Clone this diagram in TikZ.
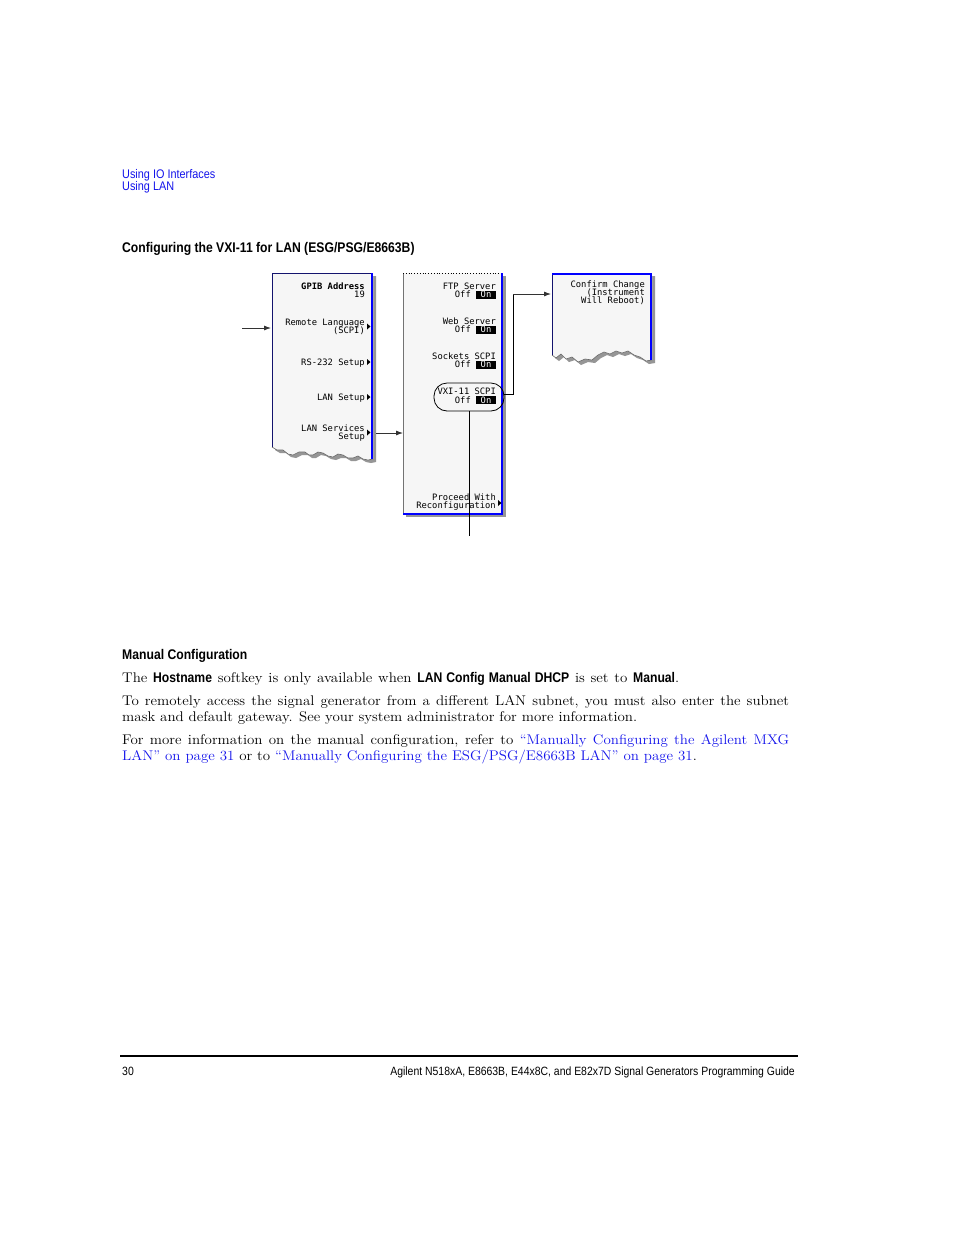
\documentclass[tikz,border=0pt]{standalone}
\usepackage{fontspec}
\usetikzlibrary{arrows.meta}
\newfontfamily\univ[FakeStretch=0.87]{Liberation Sans}
\newfontfamily\scrmono{DejaVu Sans Mono}
\newfontfamily\bodyserif[FakeStretch=1.07]{Latin Modern Roman}
\definecolor{linkblue}{RGB}{20,20,235}
\definecolor{navy}{RGB}{20,20,110}
\definecolor{scrblue}{RGB}{0,0,255}
\definecolor{panelfill}{RGB}{246,246,246}
\definecolor{shadowgray}{RGB}{150,150,150}
\newcommand{\scrfont}{\scrmono\fontsize{8.8}{9}\selectfont}
\newcommand{\bodyfont}{\bodyserif\fontsize{14}{16}\selectfont\hyphenpenalty=10000\exhyphenpenalty=10000}
\newcommand{\ub}[1]{{\univ\bfseries\fontsize{14}{16}\selectfont #1}}
\begin{document}
\begin{tikzpicture}[x=1pt,y=-1pt,
  hdr/.style={font=\univ\fontsize{12.5}{13}\selectfont, text=linkblue, inner sep=0, anchor=base west},
  headline/.style={font=\univ\bfseries\fontsize{14}{15}\selectfont, inner sep=0, anchor=base west},
  foot/.style={font=\univ\fontsize{12}{13}\selectfont, inner sep=0},
  body/.style={font=\bodyfont, inner sep=0, anchor=base west, text width=667pt, align=justify},
  scr/.style={font=\scrfont, inner sep=0, anchor=base east},
  scrb/.style={font=\scrfont\bfseries, inner sep=0, anchor=base east},
  onbox/.style={font=\scrfont, fill=black, text=white, inner sep=0, minimum width=20pt, minimum height=8pt},
  arr/.style={draw=black!80, line width=0.8pt, -{Latex[length=7pt,width=5pt]}},
  conn/.style={draw=black, line width=0.8pt},
  softtri/.style={fill=black}
]
\useasboundingbox[fill=white] (0,0) rectangle (954,1235);

% ---------- header ----------
\node[hdr] (h1) at (122,178) {Using IO Interfaces};
\node[hdr] (h2) at (122,190) {Using LAN};
\node[headline] (title) at (122,252) {Configuring the VXI-11 for LAN (ESG/PSG/E8663B)};

% ---------- panel 1 ----------
\fill[shadowgray] (275,276) -- (376,276) -- (376,462)
  -- (371,463) -- (366,462) -- (361,459) -- (356,461) -- (351,461) -- (346,458) -- (341,458) -- (336,460) -- (331,459) -- (326,456) -- (321,455) -- (316,458) -- (312,458) -- (308,455) -- (302,455) -- (296,458) -- (291,457) -- (286,453) -- (280,453) -- (275,450) -- cycle;
\fill[panelfill] (272,273) -- (373,273) -- (373,459)
  -- (368,460) -- (363,459) -- (358,456) -- (353,458) -- (348,458) -- (343,455) -- (338,454) -- (333,457) -- (328,456) -- (323,453) -- (318,452) -- (313,455) -- (309,455) -- (305,452) -- (299,452) -- (293,455) -- (288,454) -- (283,450) -- (277,450) -- (272,447) -- cycle;
\draw[black!60, line width=0.6pt] (272,447) -- (277,450) -- (283,450) -- (288,454) -- (293,455) -- (299,452) -- (305,452) -- (309,455) -- (313,455) -- (318,452) -- (323,453) -- (328,456) -- (333,457) -- (338,454) -- (343,455) -- (348,458) -- (353,458) -- (358,456) -- (363,459) -- (368,460) -- (373,459);
\draw[navy, line width=1pt] (272.5,447) -- (272.5,273.5) -- (372,273.5);
\draw[scrblue, line width=2pt] (372,273) -- (372,459);
\coordinate (p1w) at (271,328);
\coordinate (p1e) at (376,433);

\node[scrb] (gpib) at (365,289.5) {GPIB Address};
\node[scr] (gpibv) at (365,297.5) {19};
\node[scr] (remote) at (365,325.5) {Remote Language};
\node[scr] (remotev) at (365,333.5) {(SCPI)};
\fill[softtri] (367,323.5) -- (370.5,326.5) -- (367,329.5) -- cycle;
\node[scr] (rs232) at (365,365.5) {RS-232 Setup};
\fill[softtri] (367,359) -- (370.5,362) -- (367,365) -- cycle;
\node[scr] (lansetup) at (365,400.5) {LAN Setup};
\fill[softtri] (367,394) -- (370.5,397) -- (367,400) -- cycle;
\node[scr] (lansvc) at (365,431.5) {LAN Services};
\node[scr] (lansvcv) at (365,439.5) {Setup};
\fill[softtri] (367,429.5) -- (370.5,432.5) -- (367,435.5) -- cycle;

% ---------- panel 2 ----------
\fill[shadowgray] (406,276) rectangle (506,517);
\node[fill=panelfill, inner sep=0, minimum width=100pt, minimum height=241pt, anchor=north west] (p2) at (403,273) {};
\draw[black!55, line width=0.6pt] (403,273) -- (403,514);
\draw[black, line width=0.8pt, dotted] (403,273.5) -- (503,273.5);
\draw[scrblue, line width=2pt] (502,273) -- (502,513.5) -- (403,513.5);

\node[scr] (ftp) at (496,289.5) {FTP Server};
\node[scr] (ftpoff) at (471,297.5) {Off};
\node[onbox] (ftpon) at (486,294.5) {On};
\node[scr] (web) at (496,324.5) {Web Server};
\node[scr] (weboff) at (471,332.5) {Off};
\node[onbox] (webon) at (486,329.5) {On};
\node[scr] (sock) at (496,359.5) {Sockets SCPI};
\node[scr] (sockoff) at (471,367.5) {Off};
\node[onbox] (sockon) at (486,364.5) {On};
\node[scr] (vxit) at (496,394.5) {VXI-11 SCPI};
\node[scr] (vxioff) at (471,403) {Off};
\node[onbox] (vxion) at (486,400) {On};
\node[draw=black, line width=0.8pt, rounded corners=13pt, minimum width=70pt, minimum height=28pt, inner sep=0] (vxi) at (469,397) {};
\node[scr] (proceed) at (496,500.5) {Proceed With};
\node[scr] (reconf) at (496,508.5) {Reconfiguration};
\fill[softtri] (498,500) -- (501.5,503) -- (498,506) -- cycle;

% ---------- panel 3 ----------
\fill[shadowgray] (555,276) -- (655,276) -- (655,363)
  -- (649,364) -- (643,360) -- (637,358) -- (631,354) -- (625,356) -- (619,354) -- (613,357) -- (607,355) -- (601,358) -- (595,363) -- (588,362) -- (581,365) -- (575,360) -- (569,362) -- (564,357) -- (559,361) -- (555,358) -- cycle;
\fill[panelfill] (552,273) -- (652,273) -- (652,360)
  -- (646,361) -- (640,357) -- (634,355) -- (628,351) -- (622,353) -- (616,351) -- (610,354) -- (604,352) -- (598,355) -- (592,360) -- (585,359) -- (578,362) -- (572,357) -- (566,359) -- (561,354) -- (556,358) -- (552,355) -- cycle;
\draw[black!60, line width=0.6pt] (552,355) -- (556,358) -- (561,354) -- (566,359) -- (572,357) -- (578,362) -- (585,359) -- (592,360) -- (598,355) -- (604,352) -- (610,354) -- (616,351) -- (622,353) -- (628,351) -- (634,355) -- (640,357) -- (646,361) -- (652,360);
\draw[navy, line width=1pt] (552.5,355) -- (552.5,273);
\draw[scrblue, line width=2pt] (552,274) -- (651,274) -- (651,360);
\coordinate (p3w) at (551,294);

\node[scr] (confirm) at (645,287.5) {Confirm Change};
\node[scr] (instr) at (645,295.5) {(Instrument};
\node[scr] (reboot) at (645,303.5) {Will Reboot)};

% ---------- connectors ----------
\coordinate (inarrow) at (242,328);
\draw[arr] (inarrow) -- (p1w);
\draw[arr] (p1e) -- (p2.west |- p1e);
\coordinate (bend) at (513,394);
\draw[conn] (vxi.east |- bend) -- (bend) -- (bend |- p3w);
\draw[arr] (bend |- p3w) -- (p3w);
\coordinate (vxiend) at (vxi.south |- 0,536);
\draw[conn] (vxi.south) -- (vxiend);

% ---------- text ----------
\node[headline] (mchead) at (122,659) {Manual Configuration};
\node[font=\bodyfont, inner sep=0, anchor=base west] (p1) at (122,682)
  {\makebox[557pt][s]{The \ub{Hostname} softkey is only available when \ub{LAN Config Manual DHCP} is set to \ub{Manual}.}};
\node[body] (p2t) at (122,705)
  {To remotely access the signal generator from a different LAN subnet, you must also enter the subnet\linebreak mask and default gateway. See your system administrator for more information.};
\node[body] (p3t) at (122,744)
  {For more information on the manual configuration, refer to \textcolor{linkblue}{“Manually Configuring the Agilent MXG\linebreak LAN” on page 31} or to \textcolor{linkblue}{“Manually Configuring the ESG/PSG/E8663B LAN” on page 31}.};

% ---------- footer ----------
\draw[black, line width=2pt] (120,1056) -- (798,1056);
\node[foot, anchor=base west] (pg) at (122,1075) {30};
\node[foot, anchor=base east] (guide) at (795,1075) {Agilent N518xA, E8663B, E44x8C, and E82x7D Signal Generators Programming Guide};
\end{tikzpicture}
\end{document}
